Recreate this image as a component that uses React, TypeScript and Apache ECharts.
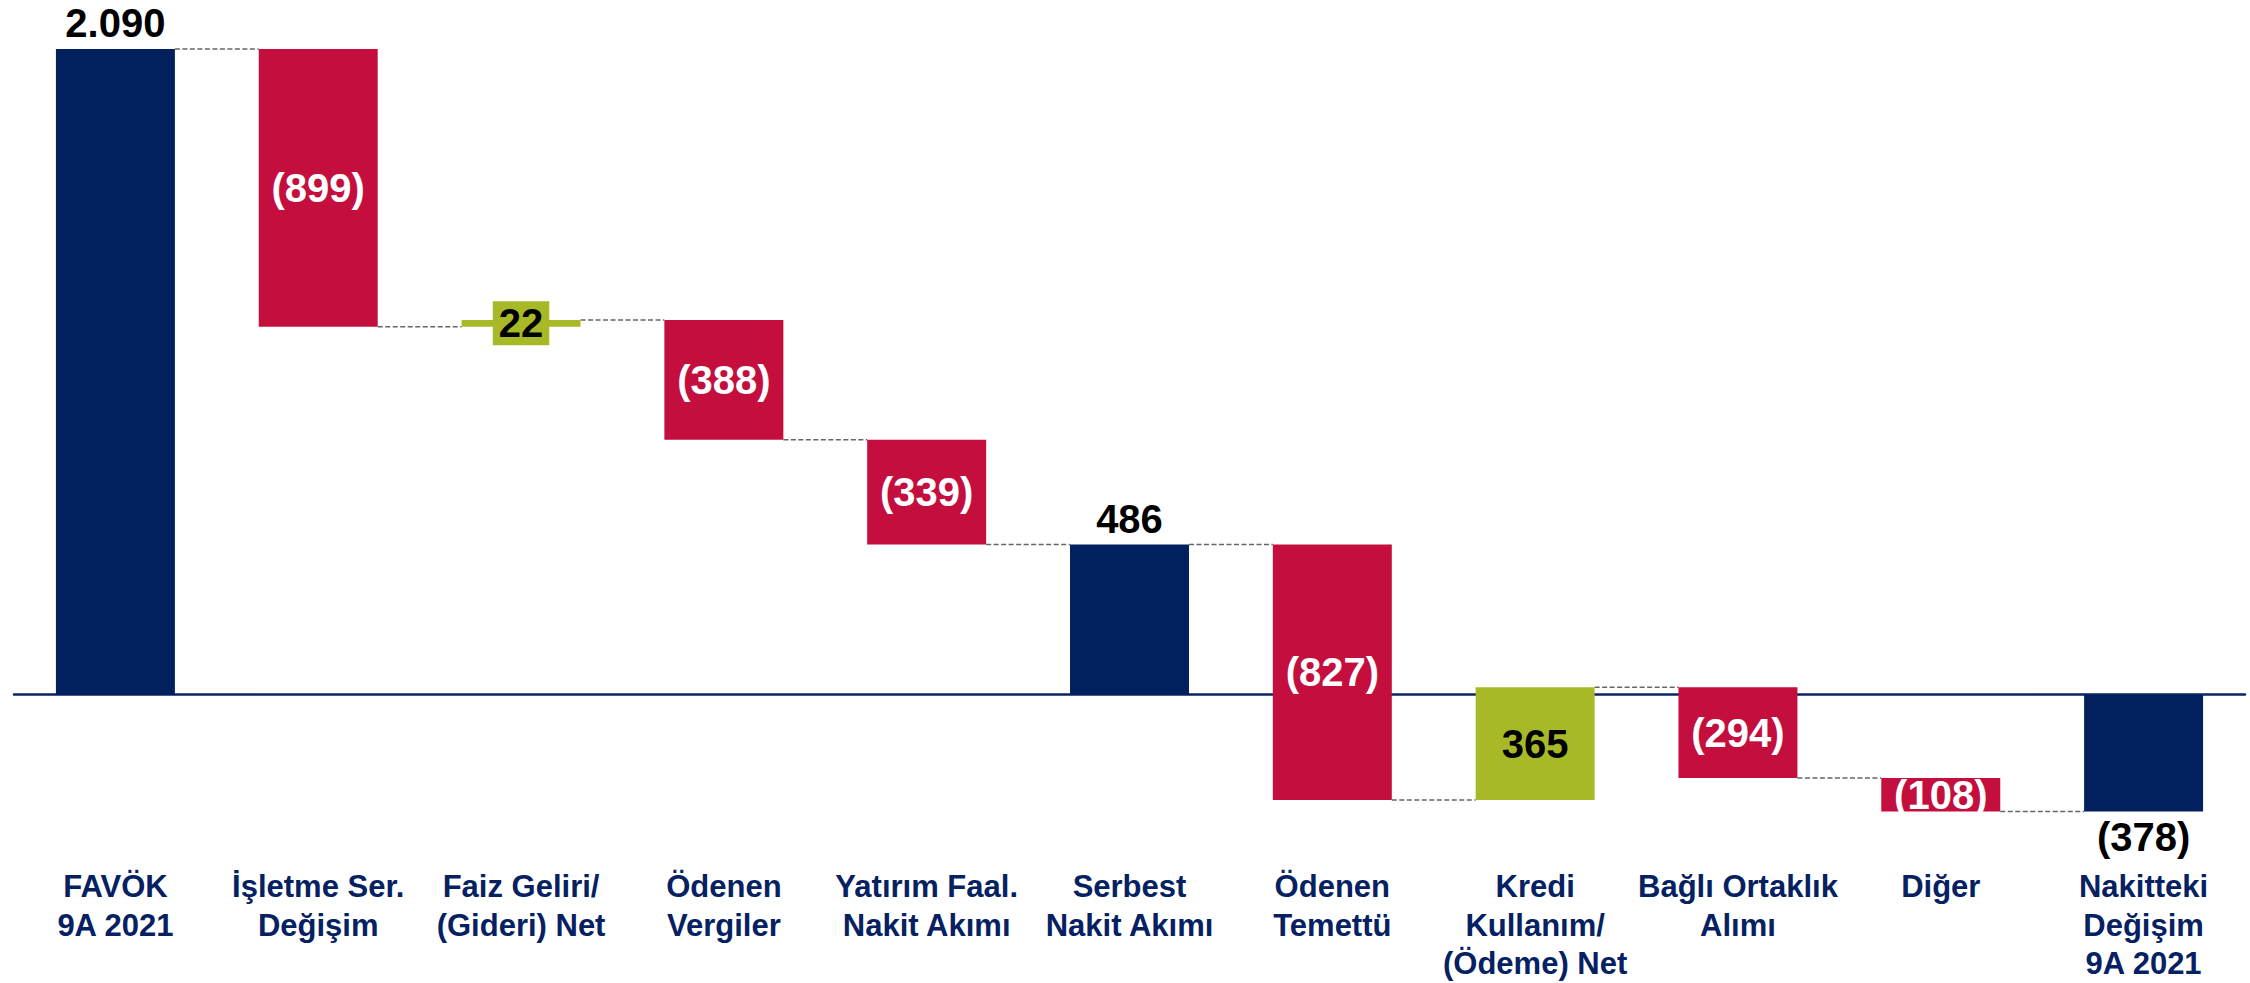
import React, { useEffect, useRef } from "react";
import * as echarts from "echarts";

const categories = [
  "FAVÖK\n9A 2021",
  "İşletme Ser.\nDeğişim",
  "Faiz Geliri/\n(Gideri) Net",
  "Ödenen\nVergiler",
  "Yatırım Faal.\nNakit Akımı",
  "Serbest\nNakit Akımı",
  "Ödenen\nTemettü",
  "Kredi\nKullanım/\n(Ödeme) Net",
  "Bağlı Ortaklık\nAlımı",
  "Diğer",
  "Nakitteki\nDeğişim\n9A 2021",
];
const values = [2090, -899, 22, -388, -339, 486, -827, 365, -294, -108, -378];
const kinds = ["total", "delta", "delta", "delta", "delta", "total", "delta", "delta", "delta", "delta", "total"];

const NAVY = "#02205E";
const RED = "#C30E3E";
const GREEN = "#A8B928";
const FONT = "'Liberation Sans', Arial, sans-serif";

function fmt(v: number): string {
  const a = Math.abs(v);
  const s = a >= 1000 ? Math.floor(a / 1000) + "." + String(a % 1000).padStart(3, "0") : String(a);
  return v < 0 ? "(" + s + ")" : s;
}

function buildData() {
  let running = 0;
  return values.map((v, i) => {
    let start: number, end: number;
    if (kinds[i] === "total") {
      start = 0;
      end = v;
    } else {
      start = running;
      end = running + v;
    }
    running = end;
    return [i, start, end, v, kinds[i] === "total" ? 1 : 0];
  });
}

export default function App() {
  const ref = useRef<HTMLDivElement>(null);
  useEffect(() => {
    if (!ref.current) return;
    const chart = echarts.init(ref.current, null, { renderer: "svg" });
    const data = buildData();
    const n = data.length;
    chart.setOption({
      animation: false,
      backgroundColor: "#ffffff",
      grid: { left: 14, right: 5, top: 21.2, bottom: 118.6, containLabel: false },
      xAxis: [
        {
          type: "category",
          data: categories,
          position: "bottom",
          axisLine: { show: false, onZero: false },
          axisTick: { show: false },
          axisLabel: {
            interval: 0,
            margin: 6,
            color: "#062162",
            fontFamily: FONT,
            fontWeight: "bold",
            fontSize: 31,
            lineHeight: 38.5,
            align: "center",
          },
        },
        {
          type: "category",
          data: categories,
          position: "bottom",
          axisLine: { show: true, onZero: true, lineStyle: { color: "#0A2463", width: 2.5 } },
          axisTick: { show: false },
          axisLabel: { show: false },
        },
      ],
      yAxis: {
        type: "value",
        min: -540,
        max: 2180,
        show: false,
        splitLine: { show: false },
      },
      series: [
        {
          type: "custom",
          xAxisIndex: 0,
          clip: false,
          encode: { x: 0, y: [1, 2] },
          data,
          renderItem: (params: any, api: any) => {
            const i = api.value(0);
            const start = api.value(1);
            const end = api.value(2);
            const v = api.value(3);
            const isTotal = api.value(4) === 1;
            const cx = api.coord([i, 0])[0];
            const band = api.size([1, 0])[0];
            const w = band * 0.5866;
            const yS = api.coord([i, start])[1];
            const yE = api.coord([i, end])[1];
            const top = Math.min(yS, yE);
            const h = Math.abs(yS - yE);
            const color = isTotal ? NAVY : v < 0 ? RED : GREEN;
            const children: any[] = [];
            if (i < n - 1) {
              const nx = api.coord([i + 1, 0])[0];
              children.push({
                type: "line",
                shape: { x1: cx + w / 2, y1: yE, x2: nx - w / 2, y2: yE },
                style: { stroke: "#666666", lineWidth: 1.5, lineDash: [5, 2.5] },
                z2: 1,
              });
            }
            children.push({
              type: "rect",
              shape: { x: cx - w / 2, y: top, width: w, height: Math.max(h, 1) },
              style: { fill: color },
              z2: 2,
            });
            const font = "bold 40px " + FONT;
            let ty: number;
            let va: string;
            let fill: string;
            let bg: string | undefined;
            if (isTotal) {
              fill = "#000000";
              if (v >= 0) {
                ty = top - 6;
                va = "bottom";
              } else {
                ty = top + h + 6;
                va = "top";
              }
            } else {
              ty = top + h / 2;
              va = "middle";
              fill = v < 0 ? "#ffffff" : "#000000";
              if (v > 0) bg = GREEN;
            }
            children.push({
              type: "text",
              x: cx,
              y: ty,
              z2: 3,
              style: {
                text: fmt(v),
                font,
                fill,
                align: "center",
                verticalAlign: va,
                backgroundColor: bg,
                padding: bg ? [2, 6, 2, 6] : 0,
              },
            });
            return { type: "group", children };
          },
        },
      ],
    });
    return () => chart.dispose();
  }, []);
  return <div ref={ref} style={{ position: "absolute", left: 0, top: 0, width: 2250, height: 983 }} />;
}
